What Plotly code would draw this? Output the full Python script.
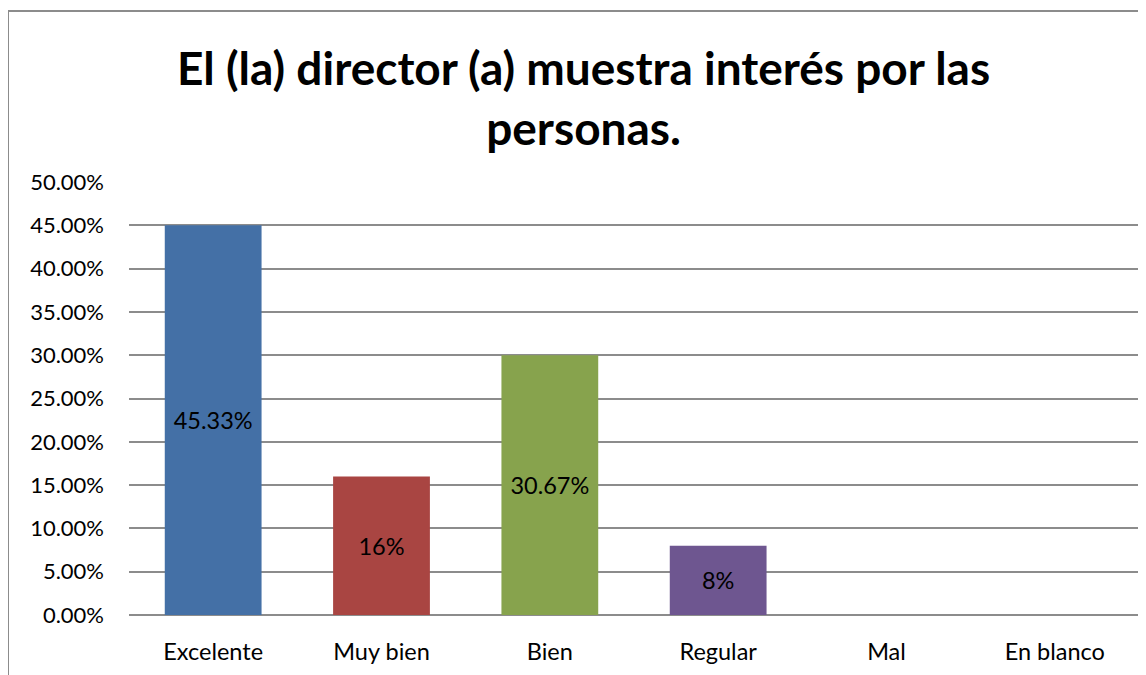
import plotly.graph_objects as go

categories = ["Excelente", "Muy bien", "Bien", "Regular", "Mal", "En blanco"]
values = [45, 16, 30, 8, 0, 0]
labels = ["45.33%", "16%", "30.67%", "8%", "", ""]
colors = ["#4470A6", "#A94542", "#87A34D", "#6E5690", "#4470A6", "#4470A6"]
tick_vals = [0, 5, 10, 15, 20, 25, 30, 35, 40, 45, 50]
tick_text = ["0.00%", "5.00%", "10.00%", "15.00%", "20.00%", "25.00%",
             "30.00%", "35.00%", "40.00%", "45.00%", "50.00%"]
title_text = "El (la) director (a) muestra interés por las<br>personas."

FONT = "Lato"
OFF = 8  # page body margin
W, H = 1146 - OFF, 675 - OFF
L, R, T, B = 129 - OFF, 15 - OFF, 182 - OFF, 60
pw, ph = W - L - R, H - T - B

def px(x):
    return (x - OFF - L) / pw

def py(y):
    return (H - B - (y - OFF)) / ph

fig = go.Figure()
fig.add_trace(go.Bar(
    x=categories, y=values,
    marker=dict(color=colors, line=dict(width=0)),
    width=0.575,
    text=labels, textposition="inside", insidetextanchor="middle",
    textangle=0,
    textfont=dict(family=FONT, size=23.5, color="#000000"),
    hoverinfo="skip",
))

border = dict(color="#8C8C8C", width=2)
fig.update_layout(
    width=W, height=H,
    margin=dict(l=L, r=R, t=T, b=B, pad=0),
    paper_bgcolor="white", plot_bgcolor="white",
    showlegend=False,
    font=dict(family=FONT, size=22, color="#000000"),
    uniformtext=dict(mode=False),
    xaxis=dict(showgrid=False, showline=False, ticks="", tickfont=dict(size=23.5),
               ticklabelstandoff=20),
    yaxis=dict(range=[0, 50], tickvals=tick_vals, ticktext=tick_text,
               showgrid=True, gridcolor="#8C8C8C", gridwidth=1.5,
               zeroline=True, zerolinecolor="#8C8C8C", zerolinewidth=1.5,
               showline=False, ticks="", ticklabelstandoff=24,
               tickfont=dict(size=22)),
    shapes=[
        dict(type="line", xref="paper", yref="paper",
             x0=px(8), x1=px(1200), y0=py(11), y1=py(11), line=border, layer="below"),
        dict(type="line", xref="paper", yref="paper",
             x0=px(8), x1=px(8), y0=py(11), y1=py(700), line=border, layer="below"),
    ],
    annotations=[dict(text=title_text, xref="paper", yref="paper",
                      x=px(583), y=py(97), xanchor="center", yanchor="middle",
                      showarrow=False,
                      font=dict(family=FONT, size=46, color="#000000", weight="bold"))],
)

fig.write_html("out.html")
